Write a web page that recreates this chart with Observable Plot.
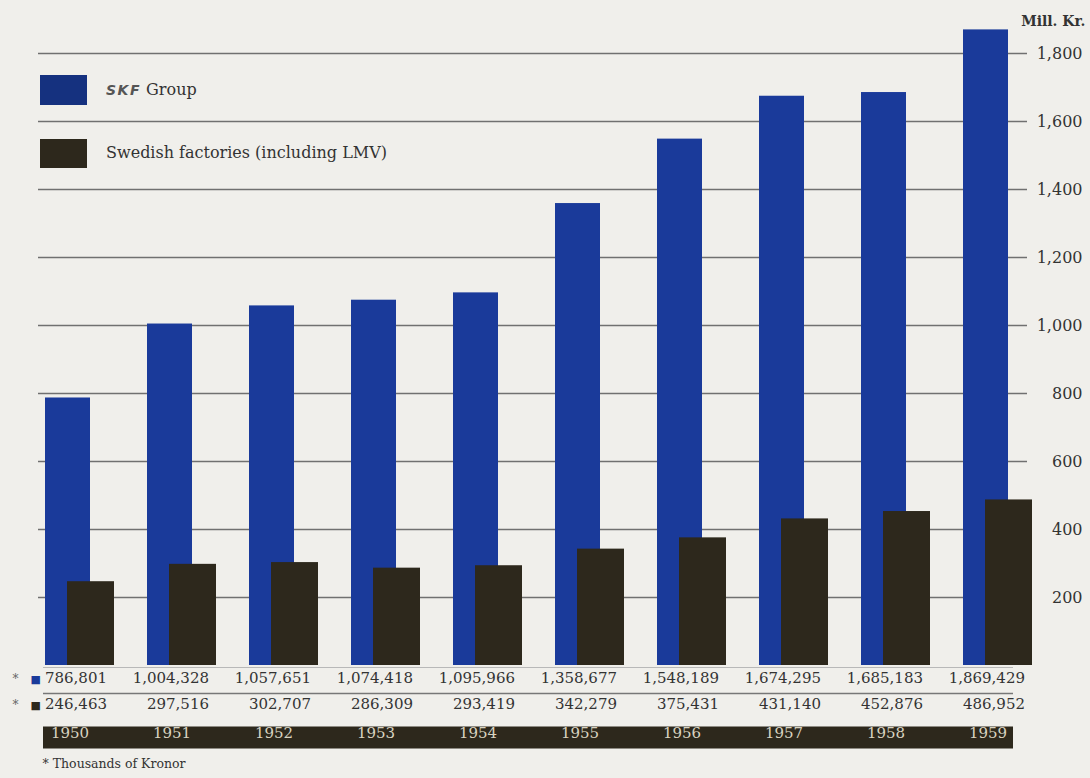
<!DOCTYPE html>
<html>
<head>
<meta charset="utf-8">
<script src="https://cdn.jsdelivr.net/npm/d3@7"></script>
<script src="https://cdn.jsdelivr.net/npm/@observablehq/plot@0.6"></script>
<style>
  html, body { margin: 0; padding: 0; background: #f0efeb; }
  #wrap { position: relative; width: 1090px; height: 778px; background: #f0efeb; overflow: hidden; }
  .legend { position: absolute; left: 40px; font-family: "DejaVu Serif", serif; font-size: 16px; color: #333; }
  .legend .sw { position: absolute; left: 0; width: 47px; }
  .legend .lab { position: absolute; left: 66px; white-space: nowrap; }
  .logo { font-family: "DejaVu Sans", sans-serif; font-weight: bold; font-size: 14px; letter-spacing: 1.5px; color: #555; font-style: italic; }
</style>
</head>
<body>
<div id="wrap"></div>
<script>
// ---- data ----
const years = [1950, 1951, 1952, 1953, 1954, 1955, 1956, 1957, 1958, 1959];
// thousands of kronor
const groupSales = [786801, 1004328, 1057651, 1074418, 1095966, 1358677, 1548189, 1674295, 1685183, 1869429];
const swedishSales = [246463, 297516, 302707, 286309, 293419, 342279, 375431, 431140, 452876, 486952];
const yTicks = [200, 400, 600, 800, 1000, 1200, 1400, 1600, 1800];
const seriesNames = ["Group", "Swedish factories (including LMV)"];
const logoText = "SKF";
const unitLabel = "Mill. Kr.";
const footnote = "* Thousands of Kronor";

const blue = "#1a3a9a";
const brown = "#2d281c";
const ink = "#333";

const data = years.map((year, i) => ({year, group: groupSales[i], swedish: swedishSales[i]}));
const fmt = d3.format(",");

const chart = Plot.plot({
  width: 1090,
  height: 778,
  marginTop: 53,
  marginBottom: 113,
  marginLeft: 43,
  marginRight: 55,
  style: {background: "transparent", fontFamily: "DejaVu Serif, serif", fontSize: "16px", color: ink},
  x: {type: "band", domain: years, paddingInner: 0.322, paddingOuter: 0, axis: null},
  y: {domain: [0, 1800], axis: null},
  marks: [
    // gridlines
    Plot.ruleY(yTicks, {stroke: "#707070", strokeWidth: 1.6, insetLeft: -5, insetRight: 8}),
    // baseline
    Plot.ruleY([0], {stroke: "#b8b8b8", strokeWidth: 1, insetRight: 22, dy: 2}),
    // bars
    Plot.barY(data, {x: "year", y: d => d.group / 1000, fill: blue, insetRight: 24}),
    Plot.barY(data, {x: "year", y: d => d.swedish / 1000, fill: brown, insetLeft: 22}),
    // right axis labels
    Plot.axisY({ticks: yTicks, anchor: "right", tickSize: 0, tickPadding: 0, textAnchor: "end", dx: 47, tickFormat: fmt, label: null, fill: ink, fontSize: 16}),
    Plot.text([unitLabel], {frameAnchor: "top-right", text: d => d, textAnchor: "end", dx: 50, dy: -37, fontSize: 14, fontWeight: "bold", fill: ink}),
    // table: row 1 (group)
    Plot.text(data, {x: "year", frameAnchor: "bottom", text: d => fmt(d.group), textAnchor: "end", dx: 27, dy: 17, fontSize: 15, fill: ink}),
    Plot.ruleY([0], {dy: 28, stroke: "#777", strokeWidth: 1.5, insetRight: 22}),
    // table: row 2 (swedish)
    Plot.text(data, {x: "year", frameAnchor: "bottom", text: d => fmt(d.swedish), textAnchor: "end", dx: 27, dy: 43, fontSize: 15, fill: ink}),
    // year band
    Plot.ruleY([0], {dy: 72, stroke: brown, strokeWidth: 22, insetRight: 22}),
    Plot.text(data, {x: "year", frameAnchor: "bottom", text: d => String(d.year), dx: -10, dy: 72, fontSize: 15, fill: "#d9d3c0"}),
    // row markers
    Plot.text(["*"], {frameAnchor: "bottom-left", text: d => d, dx: -31, dy: 17, fontSize: 12, fill: "#666"}),
    Plot.text(["*"], {frameAnchor: "bottom-left", text: d => d, dx: -31, dy: 43, fontSize: 12, fill: "#666"}),
    Plot.text(["■"], {frameAnchor: "bottom-left", text: d => d, dx: -13, dy: 17, fontSize: 11, fill: blue}),
    Plot.text(["■"], {frameAnchor: "bottom-left", text: d => d, dx: -13, dy: 43, fontSize: 11, fill: brown}),
    // footnote
    Plot.text([footnote], {frameAnchor: "bottom-left", text: d => d, textAnchor: "start", dx: -1, dy: 102, fontSize: 12.5, fill: ink})
  ]
});

const wrap = document.getElementById("wrap");
wrap.appendChild(chart);

// legend overlay
const legend = document.createElement("div");
legend.className = "legend";
legend.style.top = "0px";
legend.innerHTML = `
  <div class="sw" style="top:75px;height:30px;background:#15317f"></div>
  <div class="lab" style="top:80px"><span class="logo">${logoText}</span> ${seriesNames[0]}</div>
  <div class="sw" style="top:139px;height:29px;background:${brown}"></div>
  <div class="lab" style="top:143px">${seriesNames[1]}</div>
`;
wrap.appendChild(legend);
</script>
</body>
</html>
